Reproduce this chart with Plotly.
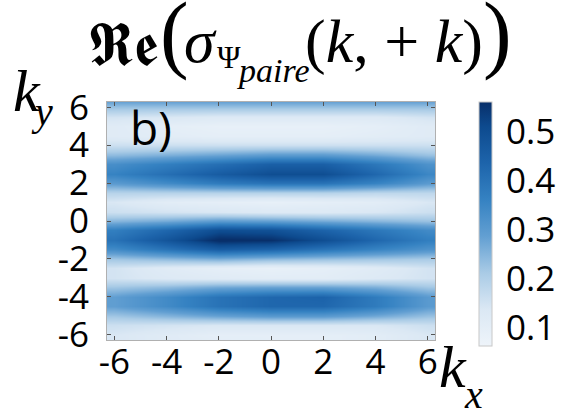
import plotly.graph_objects as go

# ---- data ----
kx_vals = [-6, -4, -2, 0, 2, 4, 6]
ky_vals = [-6.5, -6.0, -5.5, -5.0, -4.5, -4.0, -3.5, -3.0, -2.5, -2.0, -1.5, -1.0, -0.5,
           0.0, 0.5, 1.0, 1.5, 2.0, 2.5, 3.0, 3.5, 4.0, 4.5, 5.0, 5.5, 6.0, 6.5]
z_vals = [
    [0.14, 0.12, 0.11, 0.10, 0.10, 0.11, 0.14],
    [0.14, 0.12, 0.10, 0.10, 0.10, 0.11, 0.14],
    [0.16, 0.15, 0.14, 0.14, 0.14, 0.14, 0.16],
    [0.22, 0.25, 0.28, 0.30, 0.30, 0.27, 0.23],
    [0.29, 0.34, 0.40, 0.43, 0.43, 0.38, 0.30],
    [0.29, 0.34, 0.40, 0.43, 0.44, 0.38, 0.30],
    [0.22, 0.24, 0.27, 0.28, 0.28, 0.26, 0.22],
    [0.15, 0.13, 0.12, 0.11, 0.11, 0.13, 0.15],
    [0.15, 0.12, 0.10, 0.09, 0.10, 0.12, 0.15],
    [0.22, 0.24, 0.26, 0.24, 0.23, 0.22, 0.21],
    [0.34, 0.40, 0.46, 0.44, 0.40, 0.36, 0.32],
    [0.40, 0.48, 0.57, 0.56, 0.50, 0.43, 0.37],
    [0.37, 0.43, 0.50, 0.49, 0.44, 0.39, 0.34],
    [0.25, 0.27, 0.30, 0.29, 0.27, 0.25, 0.23],
    [0.16, 0.15, 0.14, 0.13, 0.13, 0.14, 0.16],
    [0.14, 0.11, 0.10, 0.09, 0.10, 0.11, 0.14],
    [0.19, 0.19, 0.19, 0.19, 0.19, 0.18, 0.18],
    [0.30, 0.34, 0.38, 0.40, 0.40, 0.36, 0.30],
    [0.36, 0.41, 0.46, 0.50, 0.50, 0.43, 0.35],
    [0.33, 0.37, 0.41, 0.45, 0.45, 0.39, 0.32],
    [0.24, 0.26, 0.28, 0.30, 0.30, 0.27, 0.23],
    [0.16, 0.16, 0.16, 0.16, 0.16, 0.16, 0.16],
    [0.12, 0.11, 0.10, 0.10, 0.10, 0.11, 0.12],
    [0.12, 0.10, 0.09, 0.09, 0.09, 0.10, 0.12],
    [0.15, 0.14, 0.13, 0.13, 0.13, 0.13, 0.15],
    [0.23, 0.23, 0.23, 0.23, 0.23, 0.23, 0.23],
    [0.32, 0.32, 0.32, 0.32, 0.32, 0.32, 0.32],
]
axis_ticks = [-6, -4, -2, 0, 2, 4, 6]
cbar_ticks = [0.1, 0.2, 0.3, 0.4, 0.5]

# ---- layout geometry ----
W, H = 565, 416
L, R, T, B = 107, 130, 102, 76
PW, PH = W - L - R, H - T - B


def px(x):
    return (x - L) / PW


def py(y):
    return (H - B - y) / PH


colorscale = [
    [0.0, "#eef4fa"], [0.15, "#dbe8f4"], [0.3, "#a9cbe6"], [0.45, "#629fd2"],
    [0.6, "#3582c2"], [0.75, "#1d64ab"], [0.9, "#0d4a8e"], [1.0, "#082f6a"],
]

TICKFONT = dict(family="Open Sans", size=35, color="black")

fig = go.Figure(go.Heatmap(
    x=kx_vals, y=ky_vals, z=z_vals, zsmooth="best",
    colorscale=colorscale, zmin=0.063, zmax=0.561,
    colorbar=dict(
        x=px(479), xanchor="left", xpad=0, ypad=0, thickness=13,
        lenmode="pixels", len=244, y=py(224), yanchor="middle",
        outlinecolor="#c8c8c8", outlinewidth=1,
        tickvals=cbar_ticks, ticktext=[f"{v:.1f}" for v in cbar_ticks],
        ticks="outside", ticklen=7, tickcolor="rgba(0,0,0,0)",
        tickfont=TICKFONT,
    ),
))

axis_common = dict(
    range=[-6.28, 6.28], tickvals=axis_ticks, ticktext=[str(v) for v in axis_ticks],
    ticks="inside", ticklen=4, tickcolor="#555", showline=True, linecolor="#b0b0b0",
    linewidth=1, mirror="ticks", showgrid=False, zeroline=False, tickfont=TICKFONT,
    automargin=False,
)
fig.update_xaxes(**axis_common, ticklabelstandoff=-9)
fig.update_yaxes(**axis_common, ticklabelstandoff=10)

serif = "Liberation Serif"
anns = [
    # title pieces (left-anchored)
    dict(text="𝕽𝖊", x=86, y=44, size=60, family="DejaVu Serif"),
    dict(text="(", x=158, y=33, size=86, family=serif),
    dict(text="<i>σ</i>", x=182, y=41, size=62, family=serif),
    dict(text="Ψ", x=215, y=57, size=32, family=serif),
    dict(text="<i>paire</i>", x=235, y=70, size=34, family=serif),
    dict(text="(<i>k</i>, + <i>k</i>)", x=303, y=41, size=62, family=serif),
    dict(text=")", x=481, y=33, size=86, family=serif),
    # axis titles
    dict(text="<i>k</i>", x=11, y=91, size=60, family=serif),
    dict(text="<i>y</i>", x=29, y=112, size=40, family=serif),
    dict(text="<i>k</i>", x=437, y=367, size=60, family=serif),
    dict(text="<i>x</i>", x=462, y=394, size=40, family=serif),
    # panel label
    dict(text="b)", x=128, y=127, size=46, family="Open Sans"),
]
for a in anns:
    fig.add_annotation(
        text=a["text"], x=px(a["x"]), y=py(a["y"]), xref="paper", yref="paper",
        xanchor="left", yanchor="middle", showarrow=False,
        font=dict(family=a["family"], size=a["size"], color="black"),
    )

fig.update_layout(
    width=W, height=H, autosize=False,
    margin=dict(l=L, r=R, t=T, b=B, pad=0, autoexpand=False),
    paper_bgcolor="white", plot_bgcolor="white",
)

fig.write_html("out.html", config={"displayModeBar": False},
               post_script="document.body.style.margin='0';")
